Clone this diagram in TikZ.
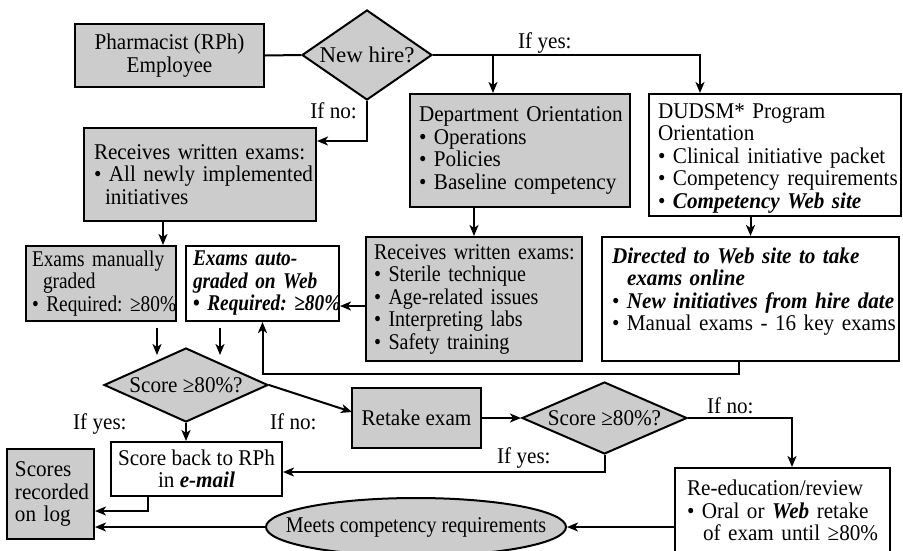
\documentclass[tikz,border=0pt]{standalone}
\usepackage{fontspec}
\setmainfont{Liberation Serif}[FakeStretch=0.94]
\newfontfamily\narrowserif{Liberation Serif}[FakeStretch=0.86]
\newfontfamily\slimserif{Liberation Serif}[FakeStretch=0.89]
\newfontfamily\fullserif{Liberation Serif}[FakeStretch=1.02]
\usetikzlibrary{shapes.geometric,arrows.meta}
% one unbreakable text line, optionally led by a bullet
\newcommand\bulletline[1]{\mbox{\textbullet\ #1}}
\newcommand\wholeline[1]{\mbox{#1}}
\newcommand\strongit[1]{\textbf{\textit{#1}}}
\newcommand\chartsize{\fontsize{22.5}{22.5}\selectfont\frenchspacing}
\begin{document}
\begin{tikzpicture}[x=1pt,y=-1pt,
  font=\chartsize,
  every node/.style={inner sep=0pt},
  narrowtext/.style={font=\narrowserif\chartsize},
  slimtext/.style={font=\slimserif\chartsize},
  fulltext/.style={font=\fullserif\chartsize},
  frame/.style={draw, line width=2pt},
  card/.style={frame, rectangle, align=left},
  grey/.style={fill=black!20},
  decision/.style={frame, grey, diamond},
  link/.style={line width=2pt},
  arrowlink/.style={link, -{Stealth[length=11pt,width=9pt,inset=3pt]}},
]
\useasboundingbox (0,0) rectangle (903,550);
\clip (0,0) rectangle (903,550);

% ---- boxes and decisions ----
\node[card, grey, align=center, minimum width=189pt, minimum height=63pt] (rph) at (169.5,55.5)
  {Pharmacist (RPh)\\Employee};
\node[decision, fulltext, minimum width=130pt, minimum height=90pt] (newhire) at (367,55)
  {\makebox[0pt]{New hire?}};
\node[card, grey, minimum width=232pt, minimum height=93pt, inner xsep=10pt, text width=212pt] (recv1) at (200,174.5)
  {\wholeline{Receives written exams:}\\\bulletline{All newly implemented}\\\hspace*{11pt}initiatives};
\node[card, grey, minimum width=220pt, minimum height=113pt, inner xsep=9pt, text width=202pt] (dept) at (520,150.5)
  {\wholeline{Department Orientation}\\\bulletline{Operations}\\\bulletline{Policies}\\\bulletline{Baseline competency}};
\node[card, fill=white, minimum width=252pt, minimum height=122pt, inner xsep=9pt, text width=234pt] (dudsm) at (775,155)
  {\wholeline{\rule{0pt}{21pt}DUDSM* Program}\\Orientation\\\bulletline{Clinical initiative packet}\\\bulletline{Competency requirements}\\\bulletline{\strongit{Competency Web site}}};
\node[card, grey, narrowtext, minimum width=150pt, minimum height=75pt, inner xsep=6pt, text width=138pt] (manual) at (101,283.5)
  {\wholeline{Exams manually}\\\hspace*{11pt}graded\\\bulletline{Required: ≥80\%}};
\node[card, fill=white, narrowtext, minimum width=153pt, minimum height=75pt, inner xsep=7pt, text width=139pt] (auto) at (262.5,283.5)
  {\wholeline{\strongit{Exams auto-}}\\\wholeline{\strongit{graded on Web}}\\\mbox{\textbf{\textbullet}\ \strongit{Required: ≥80\%}}};
\node[card, grey, slimtext, minimum width=216pt, minimum height=124pt, inner xsep=8pt, text width=200pt] (recv2) at (474,299)
  {\wholeline{Receives written exams:}\\\bulletline{Sterile technique}\\\bulletline{Age-related issues}\\\bulletline{Interpreting labs}\\\bulletline{Safety training}};
\node[card, fill=white, minimum width=297pt, minimum height=124pt, inner xsep=10pt, text width=277pt] (directed) at (750.5,299)
  {\wholeline{\strongit{Directed to Web site to take}}\\\hspace*{15pt}\strongit{exams online}\\\bulletline{\strongit{New initiatives from hire date}}\\\bulletline{Manual exams - 16 key exams\rule[-20pt]{0pt}{0pt}}};
\node[decision, minimum width=164pt, minimum height=74pt] (score1) at (186,385)
  {\makebox[0pt]{Score ≥80\%?}};
\node[card, grey, align=center, minimum width=129pt, minimum height=60pt] (retake) at (416.5,418)
  {Retake exam};
\node[decision, minimum width=165pt, minimum height=72pt] (score2) at (604.5,418)
  {\makebox[0pt]{Score ≥80\%?}};
\node[card, fill=white, align=center, minimum width=171pt, minimum height=54pt] (scoreback) at (196.5,469)
  {Score back to RPh\\in \strongit{e-mail}};
\node[card, grey, minimum width=87pt, minimum height=90pt, inner xsep=8pt, text width=71pt] (scores) at (50.5,494)
  {Scores\\recorded\\on log};
\node[frame, grey, ellipse, slimtext, minimum width=300pt, minimum height=58pt] (meets) at (416,527)
  {\makebox[0pt]{Meets competency requirements}};
\node[card, fill=white, minimum width=215pt, minimum height=85pt, inner xsep=12pt, text width=191pt] (reedu) at (782.5,510.5)
  {\wholeline{Re-education/review}\\\bulletline{Oral or \strongit{Web} retake}\\\hspace*{16pt}\wholeline{of exam until ≥80\%}};

% ---- routing points ----
\coordinate (noTurn) at (367,141);
\coordinate (yesDept) at (493,55);
\coordinate (yesProg) at (700,55);
\coordinate (toManual) at (163,0);
\coordinate (toAuto) at (0,306);
\coordinate (m1) at (157,328);
\coordinate (m2) at (157,355);
\coordinate (a1) at (220,328);
\coordinate (a2) at (220,355);
\coordinate (loopR) at (739,374);
\coordinate (retakeIn) at (352,412);
\coordinate (logA) at (148,511);
\coordinate (noR) at (792,418);
\coordinate (yesB) at (604.5,472);

% ---- connectors ----
\draw[link] (rph.east) -- (newhire.west);
\draw[arrowlink] (newhire.south) -- (noTurn) -- (noTurn -| recv1.east);
\draw[arrowlink] (newhire.east) -- (yesProg) -- (yesProg |- dudsm.north);
\draw[arrowlink] (yesDept) -- (yesDept |- dept.north);
\draw[arrowlink] (recv2.north |- dept.south) -- (recv2.north);
\draw[arrowlink] (directed.north |- dudsm.south) -- (directed.north);
\draw[arrowlink] (recv1.south -| toManual) -- (manual.north -| toManual);
\draw[arrowlink] (recv2.west |- toAuto) -- (auto.east |- toAuto);
\draw[arrowlink] (m1) -- (m2);
\draw[arrowlink] (a1) -- (a2);
\draw[arrowlink] (loopR |- directed.south) -- (loopR) -| (auto.south);
\draw[arrowlink] (score1.east) -- (retakeIn);
\draw[arrowlink] (score1.south) -- (score1.south |- scoreback.north);
\draw[arrowlink] (logA |- scoreback.south) -- (logA) -- (logA -| scores.east);
\draw[arrowlink] (meets.west) -- (meets.west -| scores.east);
\draw[arrowlink] (retake.east) -- (score2.west);
\draw[arrowlink] (score2.east) -- (noR) -- (noR |- reedu.north);
\draw[arrowlink] (score2.south) -- (yesB) -- (yesB -| scoreback.east);
\draw[arrowlink] (reedu.west |- meets.east) -- (meets.east);

% ---- branch labels ----
\node[anchor=base west] (lblYesTop) at (518,48) {If yes:};
\node[anchor=base east] (lblNoTop) at (357,118) {If no:};
\node[anchor=base west] (lblYes1) at (73,429) {If yes:};
\node[anchor=base west] (lblNo1) at (270,429) {If no:};
\node[anchor=base west] (lblNo2) at (707,413) {If no:};
\node[anchor=base west] (lblYes2) at (497,463) {If yes:};
\end{tikzpicture}
\end{document}
